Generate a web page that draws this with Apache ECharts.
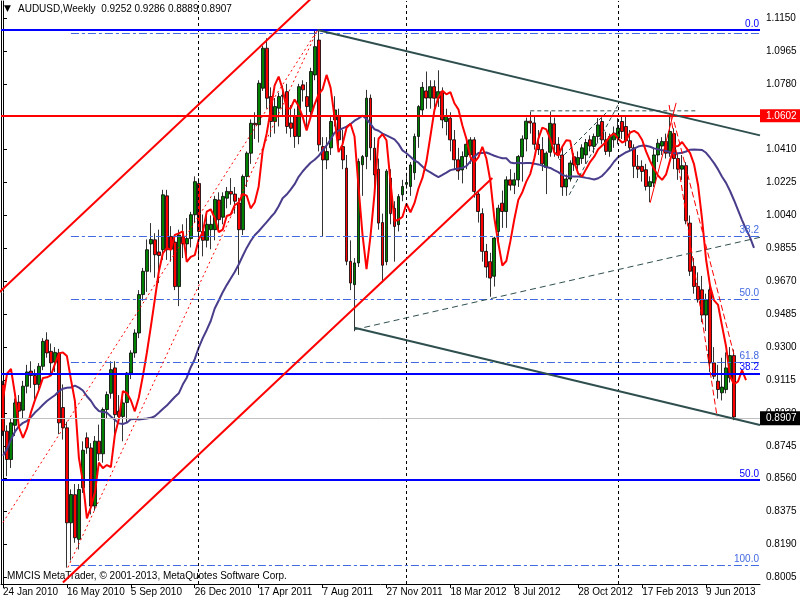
<!DOCTYPE html>
<html><head><meta charset="utf-8">
<script src="https://cdn.jsdelivr.net/npm/echarts@6/dist/echarts.min.js"></script>
<style>html,body{margin:0;padding:0;background:#fff}#c{width:800px;height:600px}</style>
</head><body><div id="c"></div><script>
// ---------- data ----------
const symbolName = 'AUDUSD,Weekly';
const xTickLabels = ['24 Jan 2010','16 May 2010','5 Sep 2010','26 Dec 2010','17 Apr 2011','7 Aug 2011','27 Nov 2011','18 Mar 2012','8 Jul 2012','28 Oct 2012','17 Feb 2013','9 Jun 2013'];
const weeksPerTick = 16;
const totalSlots = 190; // bars + empty right margin
const yTicks = [1.1150,1.0965,1.0780,1.0595,1.0410,1.0225,1.0040,0.9855,0.9670,0.9485,0.9300,0.9115,0.8930,0.8745,0.8560,0.8375,0.8190,0.8005];

const open = [0.9089,0.8827,0.8668,0.8860,0.8990,0.8945,0.9080,0.9165,0.9140,0.9090,0.9192,0.9340,0.9276,0.9215,0.9267,0.8960,0.8846,0.8312,0.8470,0.8219,
0.8509,0.8790,0.8733,0.8406,0.8771,0.8700,0.8949,0.9040,0.9183,0.8940,0.8910,0.8988,0.9154,0.9267,0.9379,0.9595,0.9726,0.9880,0.9903,0.9835,
0.9847,1.0150,0.9922,0.9890,0.9640,0.9920,0.9880,0.9910,1.0044,1.0220,0.9950,0.9900,0.9960,0.9960,1.0127,1.0030,1.0137,1.0175,1.0160,1.0110,
0.9960,1.0259,1.0390,1.0558,1.0550,1.0755,1.0980,1.0708,1.0568,1.0643,1.0710,1.0736,1.0560,1.0596,1.0484,1.0774,1.0708,1.0624,1.0830,1.1026,
1.0427,1.0352,1.0420,1.0577,1.0600,1.0427,1.0306,0.9782,0.9651,0.9773,1.0325,1.0371,1.0699,1.0418,1.0300,1.0000,0.9780,1.0250,1.0080,0.9988,
1.0156,1.0215,1.0203,1.0280,1.0484,1.0633,1.0740,1.0700,1.0764,1.0699,1.0736,1.0568,1.0587,1.0465,1.0353,1.0296,1.0371,1.0380,1.0465,1.0160,
1.0050,0.9838,0.9780,0.9698,0.9950,1.0109,1.0062,1.0240,1.0210,1.0240,1.0370,1.0470,1.0570,1.0560,1.0440,1.0410,1.0310,1.0395,1.0555,1.0440,
1.0380,1.0200,1.0245,1.0370,1.0325,1.0360,1.0380,1.0465,1.0428,1.0484,1.0568,1.0465,1.0400,1.0465,1.0475,1.0568,1.0540,1.0460,1.0420,1.0316,
1.0316,1.0297,1.0203,1.0222,1.0380,1.0430,1.0456,1.0390,1.0500,1.0360,1.0300,1.0320,0.9997,0.9753,0.9641,0.9622,0.9480,0.9622,0.9211,0.9108,
0.9043,0.9061,0.9127,0.9252];
const high = [0.9110,0.8860,0.8900,0.9010,0.9030,0.9110,0.9200,0.9220,0.9175,0.9210,0.9350,0.9383,0.9320,0.9300,0.9290,0.9090,0.8880,0.8500,0.8530,0.8530,
0.8770,0.8820,0.8760,0.8800,0.8864,0.8960,0.9050,0.9220,0.9220,0.9030,0.9010,0.9160,0.9282,0.9400,0.9620,0.9745,0.9905,0.9997,0.9940,0.9960,
1.0184,1.0184,0.9980,0.9930,0.9960,0.9990,1.0025,1.0060,1.0260,1.0250,1.0045,1.0060,1.0040,1.0150,1.0170,1.0170,1.0200,1.0250,1.0200,1.0140,
1.0270,1.0400,1.0580,1.0620,1.0800,1.0995,1.1036,1.0760,1.0700,1.0730,1.0770,1.0780,1.0660,1.0640,1.0780,1.0800,1.0790,1.0870,1.1083,1.1080,
1.0480,1.0480,1.0600,1.0710,1.0640,1.0520,1.0380,0.9900,0.9800,1.0360,1.0380,1.0746,1.0720,1.0480,1.0360,1.0050,1.0300,1.0300,1.0120,1.0160,
1.0240,1.0280,1.0340,1.0500,1.0660,1.0790,1.0849,1.0800,1.0800,1.0856,1.0760,1.0640,1.0620,1.0520,1.0420,1.0400,1.0460,1.0480,1.0480,1.0180,
1.0080,0.9880,0.9830,0.9920,1.0100,1.0180,1.0260,1.0300,1.0280,1.0380,1.0490,1.0590,1.0624,1.0600,1.0520,1.0480,1.0400,1.0624,1.0590,1.0480,
1.0420,1.0270,1.0350,1.0390,1.0400,1.0440,1.0470,1.0490,1.0500,1.0587,1.0590,1.0510,1.0500,1.0540,1.0587,1.0600,1.0600,1.0520,1.0440,1.0380,
1.0350,1.0330,1.0260,1.0420,1.0470,1.0480,1.0500,1.0600,1.0530,1.0390,1.0380,1.0340,1.0040,0.9800,0.9720,0.9700,0.9600,0.9650,0.9300,0.9200,
0.9240,0.9270,0.9300,0.9286];
const low = [0.8800,0.8574,0.8620,0.8800,0.8880,0.8900,0.9040,0.9070,0.9005,0.9050,0.9170,0.9240,0.9150,0.9160,0.8810,0.8780,0.8060,0.8100,0.8200,0.8162,
0.8480,0.8700,0.8359,0.8380,0.8660,0.8650,0.8900,0.9010,0.8808,0.8880,0.8770,0.8874,0.9120,0.9240,0.9350,0.9560,0.9610,0.9720,0.9690,0.9660,
0.9790,0.9790,0.9780,0.9620,0.9530,0.9800,0.9810,0.9860,1.0000,0.9800,0.9810,0.9860,0.9850,0.9900,0.9960,0.9990,1.0080,1.0100,1.0050,0.9706,
0.9930,1.0200,1.0330,1.0470,1.0450,1.0740,1.0640,1.0480,1.0500,1.0540,1.0600,1.0500,1.0480,1.0420,1.0440,1.0680,1.0520,1.0600,1.0800,1.0400,
0.9922,1.0300,1.0380,1.0540,1.0400,1.0300,0.9760,0.9620,0.9389,0.9750,1.0150,1.0300,1.0350,1.0200,0.9960,0.9663,0.9760,0.9990,0.9780,0.9950,
1.0120,1.0190,1.0150,1.0240,1.0420,1.0600,1.0640,1.0640,1.0640,1.0650,1.0530,1.0490,1.0400,1.0300,1.0240,1.0220,1.0300,1.0330,1.0140,1.0000,
0.9780,0.9690,0.9583,0.9640,0.9880,0.9970,0.9970,1.0180,1.0160,1.0200,1.0230,1.0400,1.0500,1.0410,1.0380,1.0290,1.0160,1.0370,1.0370,1.0360,
1.0150,1.0150,1.0230,1.0290,1.0280,1.0330,1.0330,1.0400,1.0390,1.0450,1.0440,1.0380,1.0370,1.0420,1.0440,1.0470,1.0430,1.0400,1.0250,1.0250,
1.0230,1.0180,1.0115,1.0200,1.0340,1.0380,1.0360,1.0370,1.0300,1.0240,1.0240,0.9990,0.9700,0.9600,0.9550,0.9440,0.9390,0.9160,0.9120,0.9010,
0.9000,0.9040,0.9100,0.8889];
const close = [0.8827,0.8668,0.8874,0.8986,0.8940,0.9080,0.9160,0.9140,0.9090,0.9192,0.9332,0.9267,0.9211,0.9270,0.8874,0.8846,0.8312,0.8471,0.8228,0.8499,
0.8720,0.8733,0.8406,0.8771,0.8700,0.8949,0.9033,0.9173,0.8920,0.8910,0.8986,0.9154,0.9267,0.9379,0.9595,0.9726,0.9847,0.9905,0.9819,0.9815,
1.0156,0.9847,0.9850,0.9640,0.9930,0.9880,0.9910,1.0044,1.0230,0.9950,0.9900,0.9990,0.9990,1.0130,1.0016,1.0147,1.0175,1.0160,1.0120,0.9960,
1.0259,1.0390,1.0558,1.0550,1.0783,1.0980,1.0699,1.0568,1.0652,1.0708,1.0716,1.0540,1.0530,1.0484,1.0764,1.0746,1.0652,1.0849,1.0989,1.0437,
1.0352,1.0399,1.0568,1.0633,1.0465,1.0352,0.9782,0.9660,0.9773,1.0343,1.0371,1.0699,1.0420,1.0268,0.9997,0.9760,1.0289,1.0050,0.9978,1.0146,
1.0203,1.0225,1.0324,1.0484,1.0652,1.0760,1.0700,1.0764,1.0699,1.0736,1.0577,1.0596,1.0465,1.0353,1.0290,1.0371,1.0440,1.0465,1.0175,1.0062,
0.9838,0.9750,0.9688,0.9913,1.0081,1.0062,1.0240,1.0210,1.0240,1.0371,1.0470,1.0570,1.0560,1.0440,1.0410,1.0330,1.0390,1.0558,1.0440,1.0380,
1.0200,1.0245,1.0335,1.0325,1.0365,1.0420,1.0450,1.0430,1.0484,1.0549,1.0465,1.0400,1.0484,1.0503,1.0531,1.0512,1.0460,1.0420,1.0316,1.0300,
1.0287,1.0203,1.0230,1.0380,1.0446,1.0456,1.0390,1.0512,1.0360,1.0300,1.0320,1.0010,0.9726,0.9641,0.9566,0.9480,0.9566,0.9211,0.9136,0.9061,
0.9075,0.9183,0.9252,0.8907];
// weekly closes before the first visible bar (feed the moving averages)
const preClose = [0.8000,0.7840,0.8090,0.8240,0.8350,0.8390,0.8300,0.8330,0.8400,0.8470,0.8620,0.8700,0.8680,0.8620,0.8950,
0.9140,0.9180,0.8980,0.9170,0.9270,0.9150,0.9130,0.9150,0.9070,0.8880,0.8810,0.8970,0.9250,0.9230,0.9050];
// indicator settings: [period, shift]
const fastMA = [3, 3];
const slowMA = [26, 5];

// drawing objects: anchors as [week index, price]
const redChannelUpper = [[-1, 0.9606], [80, 1.1320]];
const redChannelLower = [[15, 0.7977], [122.5, 1.0251]];
const redDottedA = [[0, 0.8314], [78.75, 1.1083]];
const redDottedB = [[16.25, 0.8061], [78.75, 1.1083]];
const slateUpper = [[78.75, 1.1083], [189.5, 1.0490]];
const slateLower = [[88, 0.9409], [189.5, 0.8862]];
const slateDashed = [[88, 0.9398], [189.5, 0.9917]];
const boxTopDashed = [[132, 1.0628], [173.75, 1.0628]];
const dashDiagA = [[141.75, 1.0156], [154.25, 1.0673]];
const dashDiagB = [[139.25, 1.0353], [151, 1.0617]];
const redThin = [[162, 1.0111], [168.5, 1.0673]];
const redDashA = [[166.75, 1.0661], [178.75, 0.8909]];
const redDashB = [[168, 1.0566], [183, 0.9257]];
const fibA = {p0: 1.1066, p100: 0.8072, start: 17};
const fibALevels = [0, 38.2, 50, 61.8, 100];
const fibB = {p0: 1.1083, p100: 0.6025, start: -0.5};
const fibBLevels = [0, 38.2, 50];
const resistanceLevel = 1.0602;
const yearSeparators = [49, 101, 154];

// ---------- build ----------
const n = close.length;
const categories = Array.from({length: totalSlots}, (_, i) => 'w' + i);
const candleData = open.map((o, i) => [o, close[i], low[i], high[i]]);
const allClose = preClose.concat(close);
const off = preClose.length;
function maLine(period, shift) {
  const out = [];
  for (let j = 0; j <= n - 1 + shift; j++) {
    const k = j - shift + off;
    if (k - period + 1 < 0) continue;
    let s = 0;
    for (let t = k - period + 1; t <= k; t++) s += allClose[t];
    out.push([j, s / period]);
  }
  return out;
}
const yMin = 0.7968, yMax = 1.12455;
const FONT = 'Liberation Sans, Arial, sans-serif';

function seg(pts, color, width, type, z) {
  return {type: 'line', xAxisIndex: 1, yAxisIndex: 0, data: pts, symbol: 'none', silent: true, clip: true,
    z: z || 5, lineStyle: {color: color, width: width, type: type}};
}
function fibMarks(f, levels, color, labelColor, width, type, skipLabelAt) {
  return levels.map(l => {
    const p = f.p0 - l / 100 * (f.p0 - f.p100);
    return [{coord: [f.start, p], lineStyle: {color: color, width: width, type: type},
      label: {show: l !== skipLabelAt, position: 'insideEndTop', formatter: l.toFixed(1), color: labelColor, fontSize: 10, fontFamily: FONT, distance: 1}},
      {coord: [totalSlots - 0.5, p]}];
  });
}

const last = n - 1;
const titleText = symbolName + '  ' + [open[last], high[last], low[last], close[last]].map(v => v.toFixed(4)).join(' ');

const option = {
  animation: false,
  backgroundColor: '#fff',
  grid: {left: 1, right: 40, top: 1, bottom: 16},
  xAxis: [
    {type: 'category', data: categories, boundaryGap: true,
      axisLine: {show: true, lineStyle: {color: '#000', width: 1}},
      axisTick: {show: true, interval: weeksPerTick - 1, alignWithLabel: true, length: 4, lineStyle: {color: '#000'}},
      axisLabel: {interval: weeksPerTick - 1, align: 'left', margin: 3, color: '#000', fontSize: 10, fontFamily: FONT,
        formatter: (v, idx) => xTickLabels[idx / weeksPerTick] || ''},
      splitLine: {show: false}},
    {type: 'value', min: -0.5, max: totalSlots - 0.5, show: false}
  ],
  yAxis: [
    {type: 'value', position: 'right', min: yMin, max: yMax,
      axisLine: {show: true, lineStyle: {color: '#000'}},
      axisTick: {show: true, length: 4, customValues: yTicks, lineStyle: {color: '#000'}},
      axisLabel: {customValues: yTicks, formatter: v => v.toFixed(4), color: '#000', fontSize: 10, fontFamily: FONT, margin: 6},
      splitLine: {show: false}},
    {type: 'value', position: 'left', min: yMin, max: yMax,
      axisLine: {show: true, lineStyle: {color: '#000'}}, axisTick: {show: false}, axisLabel: {show: false}, splitLine: {show: false}}
  ],
  graphic: [
    {type: 'text', left: 4, top: 4, style: {text: '\u25BC', fontSize: 9, fontFamily: 'DejaVu Sans', fill: '#000'}},
    {type: 'text', left: 18, top: 4, style: {text: titleText, fontSize: 10, fontFamily: FONT, fill: '#000'}},
    {type: 'text', left: 7, top: 571, style: {text: 'MMCIS MetaTrader, \u00A9 2001-2013, MetaQuotes Software Corp.', fontSize: 10, fontFamily: FONT, fill: '#000'}}
  ],
  series: [
    {type: 'line', xAxisIndex: 1, data: [[-10, 1]], symbol: 'none', silent: true, z: 1,
      markLine: {symbol: ['none', 'none'], silent: true, animation: false, label: {show: false},
        data: yearSeparators.map(w => ({xAxis: w, lineStyle: {color: '#000', width: 1, type: [3, 3]}}))}},
    {type: 'candlestick', xAxisIndex: 0, yAxisIndex: 0, data: candleData, barWidth: 3.4, silent: true, z: 2,
      itemStyle: {color: '#008000', color0: '#ff0000', borderColor: '#000', borderColor0: '#000', borderWidth: 0.8}},
    {type: 'line', xAxisIndex: 1, data: [[-10, 1]], symbol: 'none', silent: true, z: 3,
      markLine: {symbol: ['none', 'none'], silent: true, animation: false,
        data: fibMarks(fibA, fibALevels, '#4169e1', '#4169e1', 1, [8, 3, 3, 3], 0).concat(
              fibMarks(fibB, fibBLevels, '#0000ff', '#0000ff', 2, 'solid', null))}},
    seg(redChannelUpper, '#ff0000', 2, 'solid'),
    seg(redChannelLower, '#ff0000', 2, 'solid'),
    seg(redDottedA, '#ff0000', 1, [2, 3]),
    seg(redDottedB, '#ff0000', 1, [2, 3]),
    seg(slateUpper, '#2f4f4f', 2, 'solid'),
    seg(slateLower, '#2f4f4f', 2, 'solid'),
    seg(slateDashed, '#2f4f4f', 1, [6, 4]),
    seg(boxTopDashed, '#2f4f4f', 1, [4, 3]),
    seg(dashDiagA, '#2f4f4f', 1, [4, 3]),
    seg(dashDiagB, '#2f4f4f', 1, [4, 3]),
    seg(redThin, '#ff0000', 1, 'solid'),
    seg(redDashA, '#ff0000', 1, [6, 3]),
    seg(redDashB, '#ff0000', 1, [6, 3]),
    {type: 'line', xAxisIndex: 1, yAxisIndex: 0, data: maLine(slowMA[0], slowMA[1]), symbol: 'none', silent: true, clip: true, z: 4,
      lineStyle: {color: '#483d8b', width: 2}},
    {type: 'line', xAxisIndex: 1, yAxisIndex: 0, data: maLine(fastMA[0], fastMA[1]), symbol: 'none', silent: true, clip: true, z: 4,
      lineStyle: {color: '#ff0000', width: 2}},
    {type: 'line', xAxisIndex: 1, data: [[-10, 1]], symbol: 'none', silent: true, z: 10,
      markLine: {symbol: ['none', 'none'], silent: true, animation: false,
        data: [
          {yAxis: resistanceLevel, lineStyle: {color: '#ff0000', width: 2, type: 'solid'},
            label: {show: true, position: 'end', formatter: resistanceLevel.toFixed(4), color: '#fff', backgroundColor: '#ff0000',
              padding: [2, 6, 1, 6], distance: 0, fontSize: 10, fontFamily: FONT}},
          {yAxis: close[last], lineStyle: {color: '#c0c0c0', width: 1, type: 'solid'},
            label: {show: true, position: 'end', formatter: close[last].toFixed(4), color: '#fff', backgroundColor: '#000',
              padding: [2, 6, 2, 6], distance: 0, fontSize: 10, fontFamily: FONT}}
        ]}}
  ]
};
const chart = echarts.init(document.getElementById('c'), null, {renderer: 'canvas'});
chart.setOption(option);
</script></body></html>
